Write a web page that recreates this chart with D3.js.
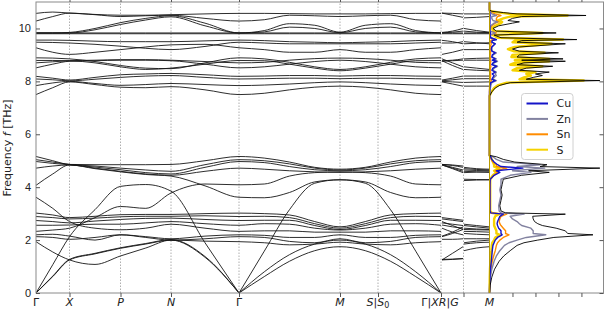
<!DOCTYPE html>
<html>
<head>
<meta charset="utf-8">
<script src="https://cdn.jsdelivr.net/npm/d3@7"></script>
<style>
body{margin:0;background:#fff}
svg{display:block;font-family:"DejaVu Sans",sans-serif}
</style>
</head>
<body>
<svg id="chart" width="604" height="311"></svg>
<script>
// high-symmetry points along the path (distance units)
const kDist = [0, 0.335, 0.845, 1.35, 2.03, 3.04, 3.42, 4.05, 4.275, 4.535];
const yTicks = [0, 2, 4, 6, 8, 10];
const dosTicks = [1, 2, 3, 4];

// sample positions of each path segment
const qP1 = [0, 0.1675, 0.335, 0.59, 0.845, 1.0975, 1.35, 1.69, 2.03, 2.2825, 2.535, 2.7875, 3.04, 3.2925, 3.545, 3.7975, 4.05];
const qP2 = [4.06, 4.165, 4.27];
const qP3 = [4.28, 4.405, 4.535];

// band frequencies (THz) Γ-X-P-N-Γ-M-S|S0-Γ
const bandsP1 = [
  [10.57,10.62,10.58,10.53,10.5,10.5,10.52,10.55,10.57,10.57,10.56,10.55,10.55,10.55,10.56,10.57,10.57],
  [10.28,10.45,10.58,10.52,10.45,10.48,10.5,10.38,10.28,10.33,10.5,10.48,10.45,10.48,10.5,10.33,10.28],
  [9.83,9.83,9.85,10.0,10.22,10.38,10.48,10.2,9.83,9.92,10.18,10.12,9.86,10.12,10.18,9.92,9.83],
  [9.83,9.83,9.83,9.95,10.15,10.32,10.44,10.1,9.83,9.87,10.05,10.0,9.84,10.0,10.05,9.87,9.83],
  [9.83,9.83,9.83,9.83,9.83,9.83,9.83,9.83,9.83,9.83,9.83,9.83,9.83,9.83,9.83,9.83,9.83],
  [9.8,9.8,9.8,9.8,9.8,9.8,9.8,9.8,9.8,9.8,9.8,9.8,9.8,9.8,9.8,9.8,9.8],
  [9.56,9.56,9.55,9.52,9.5,9.5,9.5,9.53,9.56,9.54,9.5,9.48,9.46,9.48,9.5,9.54,9.56],
  [9.48,9.47,9.45,9.4,9.33,9.25,9.2,9.32,9.48,9.45,9.42,9.42,9.42,9.42,9.42,9.45,9.48],
  [9.27,9.1,9.02,9.1,9.2,9.3,9.38,9.4,9.27,9.2,9.1,9.1,9.2,9.1,9.1,9.2,9.27],
  [8.89,8.88,8.85,8.75,8.6,8.5,8.48,8.7,8.89,8.85,8.72,8.55,8.45,8.55,8.72,8.85,8.89],
  [8.79,8.79,8.78,8.7,8.55,8.45,8.5,8.65,8.79,8.78,8.65,8.5,8.4,8.5,8.65,8.78,8.79],
  [8.7,8.74,8.78,8.8,8.82,8.82,8.8,8.75,8.7,8.72,8.8,8.86,8.88,8.86,8.8,8.72,8.7],
  [8.51,8.65,8.76,8.78,8.8,8.8,8.78,8.65,8.51,8.55,8.65,8.75,8.8,8.75,8.65,8.55,8.51],
  [8.19,8.12,8.05,8.15,8.25,8.28,8.3,8.25,8.19,8.2,8.22,8.22,8.2,8.22,8.22,8.2,8.19],
  [8.09,8.06,8.02,8.08,8.15,8.2,8.22,8.15,8.09,8.1,8.12,8.12,8.1,8.12,8.12,8.1,8.09],
  [7.84,7.94,8.0,7.92,7.85,7.88,7.92,7.88,7.84,7.86,7.9,7.95,7.98,7.95,7.9,7.86,7.84],
  [7.5,7.76,7.98,7.88,7.78,7.76,7.8,7.68,7.5,7.55,7.68,7.78,7.82,7.78,7.68,7.55,7.5],
  [5.16,5.0,4.86,4.85,4.85,4.85,4.86,5.0,5.16,5.1,4.95,4.75,4.68,4.75,4.95,5.1,5.16],
  [5.04,4.95,4.86,4.8,4.72,4.65,4.6,4.85,5.04,5.0,4.88,4.72,4.65,4.72,4.88,5.0,5.04],
  [4.97,4.9,4.85,4.76,4.66,4.55,4.5,4.75,4.97,4.93,4.78,4.66,4.62,4.66,4.78,4.93,4.97],
  [4.72,4.8,4.84,4.72,4.6,4.5,4.45,4.6,4.72,4.68,4.62,4.58,4.56,4.58,4.62,4.68,4.72],
  [4.07,4.5,4.84,4.7,4.58,4.48,4.42,4.05,3.62,3.6,3.8,4.2,4.28,4.2,3.8,3.6,3.62],
  [2.33,2.38,2.45,2.85,3.27,3.2,3.78,4.12,4.09,4.12,4.42,4.55,4.58,4.55,4.42,4.12,4.09],
  [0,1.07,2.13,3.15,4.03,4.1,3.85,1.9,0,1.58,3.15,4.15,4.28,4.15,3.15,1.58,0],
  [0,0.62,1.25,1.48,1.69,1.85,2.0,1.35,0,0.62,1.2,1.6,1.75,1.6,1.2,0.62,0],
  [0,0.64,1.27,1.5,1.71,1.87,2.02,1.38,0,0.8,1.45,1.85,2.0,1.85,1.45,0.8,0],
  [1.94,1.55,1.25,1.08,1.4,1.7,2.0,1.96,1.94,1.9,1.82,1.85,1.92,1.85,1.82,1.9,1.94],
  [3.02,2.95,2.85,2.9,2.96,2.97,2.97,3.0,3.02,3.0,2.95,2.7,2.5,2.7,2.95,3.0,3.02],
  [2.89,2.85,2.8,2.83,2.88,2.9,2.9,2.92,2.89,2.9,2.85,2.62,2.45,2.62,2.85,2.9,2.89],
  [2.74,2.7,2.65,2.72,2.78,2.82,2.83,2.78,2.74,2.75,2.75,2.55,2.4,2.55,2.75,2.75,2.74],
  [2.56,2.56,2.57,2.6,2.6,2.65,2.7,2.62,2.56,2.62,2.6,2.45,2.38,2.45,2.6,2.62,2.56],
  [3.62,3.2,2.7,2.45,2.39,2.45,2.6,2.45,2.33,2.35,2.35,2.3,2.3,2.3,2.35,2.35,2.33],
  [2.2,2.22,2.15,2.0,2.2,2.13,2.05,2.15,2.2,2.18,2.1,2.1,2.2,2.1,2.1,2.18,2.2],
  [2.13,2.1,2.03,2.1,2.2,2.1,2.0,2.05,2.13,2.1,1.95,1.9,2.05,1.9,1.95,2.1,2.13]
];
// X-R
const bandsP2 = [
  [10.58,10.57,10.55],[10.58,10.5,10.42],[9.85,9.9,10.0],[9.83,9.86,9.9],[9.83,9.83,9.83],[9.8,9.8,9.8],
  [9.55,9.5,9.42],[9.45,9.45,9.5],[9.02,9.1,9.2],[8.85,8.7,8.55],[8.78,8.6,8.45],[8.78,8.8,8.85],
  [8.76,8.78,8.8],[8.05,8.12,8.2],[8.02,8.06,8.1],[8.0,7.98,7.96],[7.98,7.9,7.82],
  [4.86,4.84,4.8],[4.86,4.82,4.75],[4.85,4.75,4.65],[4.84,4.72,4.6],[4.84,4.7,4.55],[2.45,2.3,2.2],
  [2.13,2.25,2.4],[1.25,1.27,1.3],[1.27,1.28,1.3],[1.25,1.5,1.75],
  [2.85,2.8,2.75],[2.8,2.75,2.7],[2.65,2.6,2.55],[2.57,2.5,2.45],[2.7,2.55,2.4],[2.15,2.3,2.5],[2.03,2.03,2.05]
];
// G-M
const bandsP3 = [
  [10.55,10.55,10.55],[10.4,10.42,10.45],[10.0,9.92,9.86],[9.9,9.86,9.84],[9.83,9.83,9.83],[9.8,9.8,9.8],
  [9.42,9.44,9.46],[9.5,9.46,9.42],[9.2,9.2,9.2],[8.55,8.5,8.45],[8.45,8.42,8.4],[8.85,8.87,8.88],
  [8.8,8.8,8.8],[8.2,8.2,8.2],[8.1,8.1,8.1],[7.96,7.97,7.98],[7.82,7.82,7.82],
  [4.75,4.7,4.68],[4.7,4.67,4.65],[4.65,4.63,4.62],[4.6,4.58,4.56],[4.3,4.29,4.28],[4.55,4.57,4.58],
  [4.25,4.27,4.28],[1.6,1.7,1.75],[1.9,1.96,2.0],[1.85,1.9,1.92],
  [2.6,2.55,2.5],[2.55,2.5,2.45],[2.45,2.42,2.4],[2.4,2.39,2.38],[2.33,2.32,2.3],[2.25,2.22,2.2],[2.05,2.05,2.05]
];

// phonon DOS (frequency in THz, states in arbitrary units)
const dosFreq = [0,0.3,0.6,0.9,1.2,1.4,1.6,1.8,1.9,2.0,2.1,2.2,2.25,2.35,2.45,2.55,2.62,2.7,2.8,2.9,2.98,3.03,3.1,3.3,3.5,3.7,3.9,4.1,4.3,4.45,4.56,4.62,4.72,4.78,4.85,4.95,5.05,5.15,5.2,
  7.45,7.6,7.75,7.85,7.95,8.03,8.08,8.15,8.22,8.28,8.35,8.42,8.5,8.57,8.63,8.7,8.76,8.8,8.85,8.92,9.0,9.08,9.14,9.22,9.3,9.42,9.48,9.54,9.58,9.65,9.75,9.83,9.9,10.0,10.1,10.2,10.25,10.3,10.38,10.45,10.49,10.55,10.6,10.65,10.7,11.0];
const dosTotal = [0,0.03,0.1,0.22,0.42,0.62,0.9,1.2,1.5,2.1,2.8,4.5,3.4,3.3,2.9,2.3,2.1,1.96,1.9,1.88,3.3,0.7,0.5,0.45,0.5,0.55,0.5,0.55,0.6,1.4,2.6,1.7,4.8,2.2,2.5,1.1,0.6,0.3,0,
  0,0.1,0.25,0.45,0.9,4.8,1.6,1.9,2.3,2.0,2.6,1.3,1.6,2.75,1.2,1.5,3.3,1.4,3.2,1.2,1.3,3.0,1.3,1.0,1.3,3.3,1.2,1.4,3.8,0.5,0.2,2.9,0.3,0.15,0.4,1.0,1.3,0.8,1.0,1.4,4.2,1.2,0.6,0.1,0,0];
const dosCu = [0,0.005,0.02,0.04,0.08,0.1,0.12,0.15,0.2,0.25,0.35,0.55,0.5,0.5,0.4,0.35,0.33,0.35,0.4,0.45,0.6,0.05,0.02,0.02,0.02,0.02,0.02,0.02,0.03,0.2,0.45,0.3,1.45,0.5,0.35,0.2,0.1,0.05,0,
  0,0,0.01,0.02,0.05,0.25,0.1,0.15,0.2,0.12,0.25,0.1,0.15,0.3,0.1,0.15,0.3,0.12,0.25,0.1,0.12,0.25,0.1,0.08,0.1,0.25,0.1,0.12,0.3,0.05,0.02,0.05,0.01,0.01,0.01,0.02,0.02,0.02,0.02,0.02,0.03,0.02,0.01,0,0,0];
const dosZn = [0,0.01,0.04,0.1,0.2,0.3,0.45,0.65,0.85,1.2,1.6,2.45,1.9,1.9,1.8,1.4,1.3,1.2,1.0,0.9,1.5,0.5,0.42,0.4,0.45,0.5,0.45,0.5,0.5,0.9,1.8,1.0,2.4,1.2,2.2,0.6,0.3,0.15,0,
  0,0.02,0.04,0.06,0.1,0.3,0.15,0.2,0.3,0.25,0.3,0.15,0.2,0.35,0.15,0.2,0.35,0.15,0.3,0.12,0.15,0.3,0.12,0.1,0.1,0.25,0.1,0.12,0.3,0.05,0.03,0.25,0.03,0.02,0.05,0.2,0.35,0.15,0.1,0.1,0.3,0.1,0.05,0.01,0,0];
const dosSn = [0,0.01,0.03,0.06,0.12,0.18,0.25,0.3,0.35,0.45,0.6,0.85,0.7,0.7,0.6,0.5,0.45,0.42,0.45,0.5,0.75,0.05,0.03,0.03,0.03,0.03,0.03,0.03,0.04,0.2,0.35,0.25,0.75,0.3,0.3,0.15,0.08,0.04,0,
  0,0,0,0.01,0.02,0.08,0.03,0.04,0.05,0.04,0.05,0.03,0.04,0.06,0.03,0.04,0.06,0.03,0.05,0.03,0.03,0.05,0.03,0.03,0.03,0.08,0.04,0.05,0.15,0.05,0.03,0.3,0.04,0.03,0.1,0.25,0.4,0.3,0.3,0.35,0.5,0.25,0.1,0.02,0,0];
const dosS = [0,0.005,0.01,0.02,0.04,0.05,0.08,0.1,0.12,0.2,0.25,0.45,0.3,0.3,0.25,0.2,0.2,0.2,0.2,0.25,0.4,0.1,0.03,0.03,0.03,0.03,0.03,0.03,0.03,0.15,0.3,0.2,0.43,0.2,0.2,0.15,0.1,0.05,0,
  0,0.08,0.2,0.35,0.75,4.1,1.3,1.5,1.8,1.6,2.0,1.0,1.2,2.3,0.9,1.1,2.6,1.1,2.6,0.95,1.0,2.4,1.05,0.8,1.1,2.7,1.0,1.1,3.2,0.35,0.15,2.3,0.2,0.1,0.25,0.5,0.55,0.35,0.6,0.9,3.4,0.85,0.45,0.07,0,0];

const elements = ["Cu", "Zn", "Sn", "S"];
const elemColors = ["#1414c8", "#8282a0", "#ff8c00", "#f5d200"];

var svg = d3.select("#chart");
var x = d3.scaleLinear().domain([0, 4.535]).range([36, 489.5]);
var xd = d3.scaleLinear().domain([0, 4.96]).range([489.5, 603.5]);
var y = d3.scaleLinear().domain([0, 11]).range([293, 2]);

svg.append("defs").append("clipPath").attr("id", "clip")
  .append("rect").attr("x", 36).attr("y", 2).attr("width", 567.5).attr("height", 291);

// dotted lines at the high-symmetry points
svg.append("g").selectAll("line").data(kDist.slice(1, -1)).enter().append("line")
  .attr("x1", d => x(d)).attr("x2", d => x(d)).attr("y1", y(0)).attr("y2", y(11))
  .attr("stroke", "#9a9a9a").attr("stroke-width", 0.8).attr("stroke-dasharray", "1.5,1.5");

// bands: smooth curve, but cut at zero-frequency points so acoustic branches meet in a V
function pieces(q, b) {
  var out = [], cur = [];
  b.forEach(function(f, j) {
    cur.push([q[j], f]);
    if (f === 0 && j > 0 && j < b.length - 1) { out.push(cur); cur = [[q[j], f]]; }
  });
  out.push(cur);
  return out;
}
var bandLine = d3.line().x(d => x(d[0])).y(d => y(d[1])).curve(d3.curveMonotoneX);
var plot = svg.append("g").attr("clip-path", "url(#clip)");
[[qP1, bandsP1], [qP2, bandsP2], [qP3, bandsP3]].forEach(function(p) {
  plot.append("g").selectAll("path").data(p[1]).enter().append("path")
    .attr("d", b => pieces(p[0], b).map(s => bandLine(s)).join(""))
    .attr("fill", "none").attr("stroke", "#161616").attr("stroke-width", 0.9);
});

// DOS curves
var dosLine = d3.line().x(d => xd(d[1])).y(d => y(d[0]));
var dosSeries = [
  [dosS, elemColors[3], 2.4],
  [dosSn, elemColors[2], 1.4],
  [dosZn, elemColors[1], 1.4],
  [dosCu, elemColors[0], 1.4],
  [dosTotal, "#000", 0.9]
];
dosSeries.forEach(function(s) {
  plot.append("path")
    .attr("d", dosLine(dosFreq.map((f, i) => [f, s[0][i]])))
    .attr("fill", "none").attr("stroke", s[1]).attr("stroke-width", s[2])
    .attr("stroke-linejoin", "round");
});

// frame
svg.append("rect").attr("x", 36).attr("y", 2).attr("width", 567.5).attr("height", 291)
  .attr("fill", "none").attr("stroke", "#8a8a8a").attr("stroke-width", 1);
svg.append("line").attr("x1", 489.5).attr("x2", 489.5).attr("y1", 2).attr("y2", 293)
  .attr("stroke", "#b89a00").attr("stroke-width", 1);

// y axes (ticks inward)
var yAxis = svg.append("g").attr("transform", "translate(36,0)")
  .call(d3.axisLeft(y).tickValues(yTicks).tickSize(-4).tickPadding(5).tickFormat(d3.format("d")));
yAxis.select(".domain").remove();
yAxis.selectAll("text").attr("font-size", 11).attr("fill", "#222");
yAxis.selectAll("line").attr("stroke", "#555");

var yAxisR = svg.append("g").attr("transform", "translate(603.5,0)")
  .call(d3.axisRight(y).tickValues(yTicks).tickSize(-4).tickFormat(""));
yAxisR.select(".domain").remove();
yAxisR.selectAll("line").attr("stroke", "#555");

// DOS ticks (top and bottom)
[[d3.axisBottom, 2], [d3.axisTop, 293]].forEach(function(a) {
  var g = svg.append("g").attr("transform", "translate(0," + a[1] + ")")
    .call(a[0](xd).tickValues(dosTicks).tickSize(-4).tickFormat(""));
  g.select(".domain").remove();
  g.selectAll("line").attr("stroke", "#555");
});
// path ticks (top and bottom)
[[d3.axisBottom, 2], [d3.axisTop, 293]].forEach(function(a) {
  var g = svg.append("g").attr("transform", "translate(0," + a[1] + ")")
    .call(a[0](x).tickValues(kDist.slice(1, -1)).tickSize(-4).tickFormat(""));
  g.select(".domain").remove();
  g.selectAll("line").attr("stroke", "#555");
});

// x tick labels
var labelParts = [
  [["Γ", "n"]],
  [["X", "i"]],
  [["P", "i"]],
  [["N", "i"]],
  [["Γ", "n"]],
  [["M", "i"]],
  [["S", "i"], ["|", "n"], ["S", "i"], ["0", "s"]],
  [["Γ", "n"], ["|", "n"], ["X", "i"], ["R", "i"], ["|", "n"], ["G", "i"]],
  [],
  [["M", "i"]]
];
var lab = svg.append("g").attr("font-size", 11).attr("fill", "#222");
labelParts.forEach(function(parts, i) {
  if (!parts.length) return;
  var t = lab.append("text").attr("x", x(kDist[i]) + (i === 7 ? -1 : 0)).attr("y", 306)
    .attr("text-anchor", "middle");
  parts.forEach(function(p) {
    var ts = t.append("tspan").text(p[0]);
    if (p[1] === "i") ts.attr("font-style", "italic");
    if (p[1] === "s") ts.attr("font-size", 8).attr("dy", 2);
  });
});

// y label
var yl = svg.append("text").attr("transform", "translate(11,148) rotate(-90)")
  .attr("text-anchor", "middle").attr("font-size", 11).attr("fill", "#222");
yl.append("tspan").text("Frequency ");
yl.append("tspan").text("f").attr("font-style", "italic");
yl.append("tspan").text(" [THz]");

// legend
var leg = svg.append("g").attr("transform", "translate(521.5,93.5)");
leg.append("rect").attr("width", 51.5).attr("height", 66).attr("rx", 3)
  .attr("fill", "#fff").attr("fill-opacity", 0.85).attr("stroke", "#d0d0d0");
elements.forEach(function(e, i) {
  var yy = 10 + i * 15.4;
  leg.append("line").attr("x1", 5).attr("x2", 26.5).attr("y1", yy).attr("y2", yy)
    .attr("stroke", elemColors[i]).attr("stroke-width", 2);
  leg.append("text").attr("x", 35).attr("y", yy).attr("dy", "0.35em")
    .attr("font-size", 11).attr("fill", "#222").text(e);
});
</script>
</body>
</html>
